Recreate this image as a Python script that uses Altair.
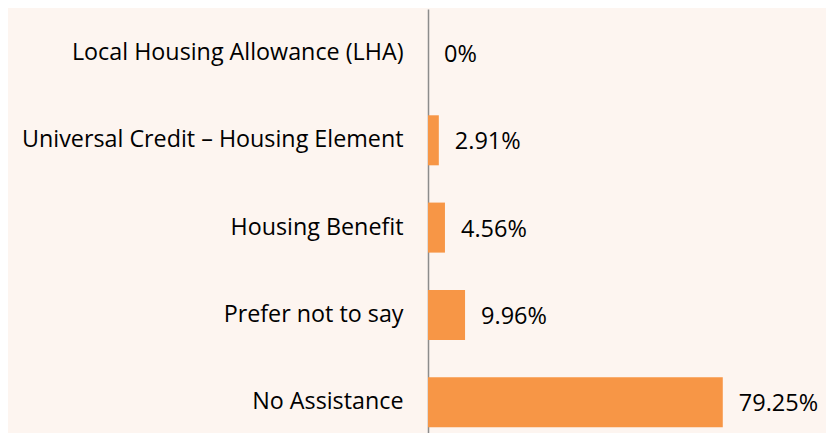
import altair as alt
import pandas as pd

categories = ["Local Housing Allowance (LHA)", "Universal Credit – Housing Element",
              "Housing Benefit", "Prefer not to say", "No Assistance"]
values = [0, 2.91, 4.56, 9.96, 79.25]
labels = ["0%", "2.91%", "4.56%", "9.96%", "79.25%"]

df = pd.DataFrame({"cat": categories, "val": values, "lab": labels})

FONT = "Open Sans"
y_enc = alt.Y("cat:N", sort=categories,
              scale=alt.Scale(paddingInner=0.427, paddingOuter=0.142, align=0.766),
              axis=alt.Axis(title=None, ticks=False, tickSize=0, labelPadding=25, labelFontSize=23.3,
                            labelFont=FONT, labelColor="#000000", domainColor="#8c8c8c",
                            domainWidth=1.5, labelLimit=600, grid=False))
x_enc = alt.X("val:Q", scale=alt.Scale(domain=[0, 107]), axis=None)

bars = alt.Chart(df).mark_bar(color="#F79646").encode(x=x_enc, y=y_enc)
text = alt.Chart(df).mark_text(align="left", baseline="middle", dx=16, dy=2, fontSize=23.5,
                               font=FONT, color="#000000").encode(x=x_enc, y=y_enc, text="lab:N")

chart = (bars + text).properties(
    width=398, height=424,
    autosize=alt.AutoSizeParams(type="none"),
    padding={"left": 420, "top": 1, "right": 0, "bottom": 0},
    background="#FDF5F0",
).configure_view(stroke=None)

chart.save("out.html", embed_options={"renderer": "svg", "actions": False})
